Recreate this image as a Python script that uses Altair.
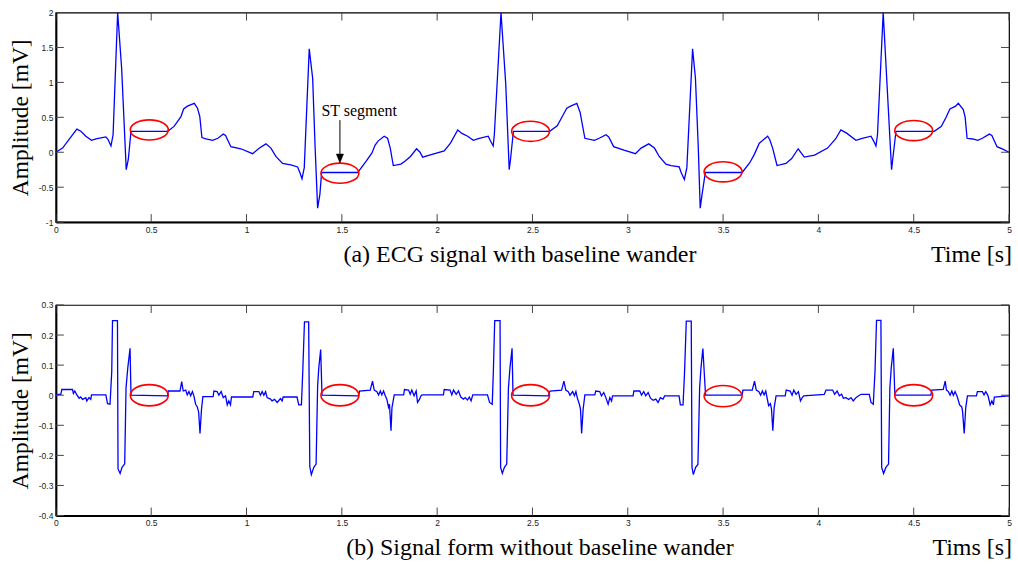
import altair as alt
import pandas as pd

# ---------------- data ----------------
# (a) ECG signal with baseline wander
time_a = [
    0, 0.035, 0.11, 0.131, 0.157, 0.187, 0.21, 0.262, 0.274, 0.289, 0.30, 0.324, 0.345, 0.369, 0.38, 0.394,
    0.586, 0.62, 0.656, 0.67, 0.69, 0.726, 0.743, 0.755, 0.766, 0.787, 0.822, 0.85, 0.878, 0.89, 0.918, 0.97,
    1.032, 1.068, 1.102, 1.128, 1.154, 1.189, 1.232, 1.268, 1.28, 1.291, 1.303, 1.329, 1.347, 1.36, 1.373, 1.385, 1.394,
    1.583, 1.627, 1.658, 1.674, 1.69, 1.722, 1.74, 1.754, 1.77, 1.81, 1.831, 1.86, 1.892, 1.91, 1.924, 1.96,
    2.037, 2.07, 2.108, 2.13, 2.16, 2.19, 2.22, 2.268, 2.28, 2.294, 2.30, 2.335, 2.36, 2.378, 2.385, 2.40,
    2.59, 2.63, 2.66, 2.68, 2.70, 2.733, 2.75, 2.775, 2.825, 2.85, 2.886, 2.9, 2.926, 2.98,
    3.04, 3.07, 3.11, 3.14, 3.165, 3.20, 3.227, 3.27, 3.28, 3.297, 3.31, 3.34, 3.355, 3.37, 3.38, 3.39, 3.407,
    3.60, 3.64, 3.664, 3.69, 3.734, 3.745, 3.76, 3.783, 3.83, 3.86, 3.894, 3.926, 3.98,
    4.048, 4.09, 4.118, 4.15, 4.197, 4.23, 4.276, 4.29, 4.302, 4.31, 4.34, 4.36, 4.384, 4.39, 4.407,
    4.608, 4.645, 4.67, 4.69, 4.72, 4.734, 4.76, 4.77, 4.78, 4.81, 4.836, 4.86, 4.897, 4.91, 4.937, 4.97, 5.0,
]
amp_a = [
    0, 0.06, 0.33, 0.30, 0.23, 0.17, 0.19, 0.22, 0.18, 0.09, 0.25, 2.0, 1.2, -0.25, -0.10, 0.30,
    0.30, 0.37, 0.51, 0.62, 0.66, 0.70, 0.63, 0.51, 0.21, 0.19, 0.17, 0.20, 0.26, 0.24, 0.08, 0.05,
    -0.02, 0.06, 0.12, 0.06, -0.06, -0.16, -0.18, -0.21, -0.29, -0.38, -0.22, 1.48, 1.06, 0.06, -0.80, -0.60, -0.29,
    -0.29, -0.13, -0.01, 0.10, 0.16, 0.23, 0.20, 0.06, -0.19, -0.17, -0.13, -0.06, 0.05, 0.0, -0.07, -0.04,
    0.02, 0.13, 0.32, 0.27, 0.23, 0.17, 0.20, 0.23, 0.16, 0.09, 0.25, 2.0, 0.97, -0.25, -0.10, 0.30,
    0.30, 0.38, 0.53, 0.63, 0.66, 0.70, 0.57, 0.20, 0.17, 0.20, 0.25, 0.22, 0.08, 0.03,
    -0.02, 0.06, 0.12, 0.06, -0.06, -0.17, -0.19, -0.21, -0.29, -0.39, -0.22, 1.48, 1.06, 0.06, -0.80, -0.60, -0.29,
    -0.29, -0.15, -0.03, 0.13, 0.23, 0.18, 0.06, -0.19, -0.16, -0.09, 0.05, -0.07, -0.04,
    0.06, 0.19, 0.32, 0.27, 0.17, 0.20, 0.23, 0.16, 0.09, 0.25, 2.0, 0.97, -0.25, -0.10, 0.30,
    0.30, 0.37, 0.50, 0.62, 0.66, 0.70, 0.61, 0.50, 0.20, 0.19, 0.17, 0.20, 0.26, 0.24, 0.08, 0.04, 0.0,
]

# (b) Signal form without baseline wander
time_b = [
    0, 0.026, 0.031, 0.087, 0.092, 0.099, 0.11, 0.122, 0.13, 0.14, 0.157, 0.162, 0.174, 0.183, 0.187,
    0.262, 0.271, 0.284, 0.293, 0.297, 0.323, 0.326, 0.337, 0.347, 0.361, 0.368, 0.377, 0.389, 0.394,
    0.585, 0.59, 0.651, 0.66, 0.668, 0.681, 0.689, 0.698, 0.707, 0.716, 0.724, 0.733, 0.742, 0.749, 0.756,
    0.764, 0.771, 0.825, 0.829, 0.846, 0.855, 0.867, 0.878, 0.89, 0.899, 0.907, 0.916, 0.921,
    1.033, 1.038, 1.065, 1.073, 1.082, 1.091, 1.1, 1.108, 1.126, 1.134, 1.147, 1.161, 1.178, 1.187, 1.192,
    1.265, 1.274, 1.288, 1.295, 1.304, 1.326, 1.332, 1.34, 1.353, 1.365, 1.373, 1.379, 1.389, 1.396,
    1.588, 1.593, 1.649, 1.661, 1.67, 1.684, 1.693, 1.702, 1.71, 1.719, 1.728, 1.736, 1.745, 1.75, 1.758,
    1.763, 1.775, 1.824, 1.829, 1.85, 1.859, 1.867, 1.879, 1.89, 1.897, 1.908, 1.915, 1.921,
    2.033, 2.037, 2.068, 2.077, 2.086, 2.1, 2.112, 2.124, 2.138, 2.147, 2.159, 2.169, 2.178, 2.187,
    2.264, 2.275, 2.289, 2.295, 2.302, 2.33, 2.333, 2.342, 2.353, 2.365, 2.374, 2.382, 2.393, 2.398,
    2.583, 2.592, 2.653, 2.665, 2.675, 2.688, 2.697, 2.711, 2.72, 2.728, 2.735, 2.746, 2.752, 2.758,
    2.766, 2.775, 2.827, 2.832, 2.853, 2.862, 2.874, 2.885, 2.897, 2.906, 2.915, 2.92,
    3.028, 3.032, 3.063, 3.072, 3.084, 3.094, 3.107, 3.119, 3.133, 3.147, 3.159, 3.171, 3.185, 3.194,
    3.269, 3.276, 3.29, 3.298, 3.307, 3.333, 3.337, 3.344, 3.356, 3.368, 3.377, 3.384, 3.394, 3.408,
    3.6, 3.604, 3.653, 3.665, 3.674, 3.688, 3.697, 3.706, 3.715, 3.724, 3.729, 3.739, 3.748, 3.754, 3.761,
    3.768, 3.778, 3.826, 3.831, 3.852, 3.862, 3.871, 3.883, 3.895, 3.906, 3.915, 3.923,
    4.031, 4.04, 4.075, 4.085, 4.098, 4.11, 4.122, 4.131, 4.145, 4.159, 4.171, 4.183, 4.197, 4.211, 4.224,
    4.267, 4.276, 4.288, 4.297, 4.305, 4.328, 4.332, 4.342, 4.354, 4.368, 4.375, 4.382, 4.393, 4.401,
    4.59, 4.595, 4.655, 4.665, 4.672, 4.682, 4.691, 4.7, 4.708, 4.717, 4.729, 4.741, 4.752, 4.756,
    4.765, 4.773, 4.782, 4.829, 4.834, 4.86, 4.869, 4.878, 4.89, 4.901, 4.91, 4.918, 4.923, 5.0,
]
amp_b = [
    0.003, 0.003, 0.019, 0.019, 0.006, 0.014, 0.001, -0.010, -0.006, -0.014, -0.008, -0.019, -0.008, -0.014, 0.001,
    0.001, -0.028, -0.030, 0.078, 0.248, 0.248, -0.245, -0.260, -0.240, -0.228, 0.025, 0.090, 0.156, 0.0,
    -0.002, 0.014, 0.014, 0.045, 0.014, 0.017, 0.001, 0.012, -0.002, 0.012, -0.002, -0.030, -0.039, -0.057, -0.127,
    -0.046, -0.005, -0.005, 0.014, 0.012, 0.0, 0.012, -0.008, -0.002, -0.032, -0.019, -0.032, -0.006,
    -0.006, 0.012, 0.012, 0.0, 0.012, 0.0, 0.012, -0.008, -0.013, -0.019, -0.014, -0.024, -0.011, -0.019, -0.006,
    -0.006, -0.032, -0.032, 0.078, 0.244, 0.244, -0.237, -0.264, -0.240, -0.229, 0.030, 0.090, 0.152, 0.0,
    -0.002, 0.014, 0.017, 0.047, 0.017, 0.012, 0.001, 0.014, 0.001, 0.014, -0.002, -0.013, -0.040, -0.030, -0.118,
    -0.041, 0.001, 0.001, 0.019, 0.017, 0.003, 0.017, -0.002, 0.014, -0.024, -0.013, -0.002, 0.001,
    0.001, 0.019, 0.017, 0.001, 0.017, 0.003, 0.014, -0.006, -0.013, -0.008, -0.016, -0.006, -0.019, 0.001,
    0.001, -0.024, -0.030, 0.080, 0.248, 0.248, -0.240, -0.260, -0.240, -0.229, 0.025, 0.090, 0.156, 0.0,
    -0.002, 0.014, 0.017, 0.047, 0.017, 0.012, 0.0, 0.012, -0.002, 0.012, -0.008, -0.030, -0.046, -0.127,
    -0.046, 0.001, 0.001, 0.014, 0.012, -0.002, 0.009, -0.008, -0.030, -0.008, -0.019, -0.002,
    -0.002, 0.014, 0.014, 0.0, 0.012, -0.002, 0.009, -0.010, -0.017, -0.013, -0.024, -0.008, -0.013, -0.002,
    -0.002, -0.032, -0.032, 0.078, 0.246, 0.246, -0.240, -0.264, -0.240, -0.230, 0.025, 0.090, 0.155, 0.0,
    0.0, 0.017, 0.017, 0.047, 0.017, 0.012, 0.0, 0.014, 0.001, 0.014, -0.003, -0.035, -0.028, -0.046, -0.118,
    -0.041, -0.002, -0.002, 0.017, 0.014, 0.0, 0.017, 0.003, 0.012, -0.019, -0.008, -0.002,
    0.003, 0.017, 0.017, 0.003, 0.014, -0.002, 0.003, -0.010, -0.008, -0.014, -0.008, -0.019, -0.008, -0.002, 0.003,
    0.003, -0.024, -0.030, 0.080, 0.249, 0.249, -0.240, -0.260, -0.240, -0.229, 0.025, 0.090, 0.156, 0.0,
    0.0, 0.017, 0.019, 0.047, 0.017, 0.012, 0.0, 0.014, 0.0, 0.012, -0.006, -0.032, -0.039, -0.052,
    -0.127, -0.041, -0.002, -0.002, 0.012, 0.012, 0.001, 0.012, -0.002, -0.032, -0.019, -0.032, -0.006, -0.002,
]
assert len(time_a) == len(amp_a) and len(time_b) == len(amp_b)

# red ellipses marking the ST segments
ellipse_time_a = [0.49, 1.49, 2.49, 3.50, 4.50]
ellipse_amp_a = [0.32, -0.30, 0.30, -0.28, 0.31]
ellipse_time_b = [0.49, 1.49, 2.49, 3.50, 4.50]
ellipse_amp_b = [0.0, 0.0, 0.0, -0.003, 0.0]

# axis ticks
x_ticks = [0, 0.5, 1, 1.5, 2, 2.5, 3, 3.5, 4, 4.5, 5]
y_ticks_a = [-1, -0.5, 0, 0.5, 1, 1.5, 2]
y_ticks_b = [-0.4, -0.3, -0.2, -0.1, 0, 0.1, 0.2, 0.3]

# annotation
st_label = "ST segment"
st_label_pos = (1.393, 0.52)
st_arrow = (1.49, 0.46, -0.09)  # t, from, arrow head centre

captions = {
    "a": ("(a) ECG signal with baseline wander", "Time [s]"),
    "b": ("(b) Signal form without baseline wander", "Tims [s]"),
}

# ---------------- chart ----------------
W = 955
SERIF = "Liberation Serif"
SANS = "Liberation Sans"
ELLIPSE = "M -1 0 A 1 {r} 0 1 0 1 0 A 1 {r} 0 1 0 -1 0"


def panel(t, v, et, ev, ydom, yticks, cap, unit, H, cap_x, ry, bounds_y, bounds_y2, st=False):
    xs = alt.Scale(domain=[0, 5], nice=False, zero=False)
    ys = alt.Scale(domain=ydom, nice=False, zero=False)
    xaxis = alt.Axis(values=x_ticks, ticks=False, tickSize=0, grid=False, title=None,
                     domainColor="black", domainWidth=2, labelFont=SANS, labelFontSize=8.5,
                     labelColor="#222", labelPadding=3, labelFlush=False, labelOverlap=False,
                     labelExpr="toString(datum.value)")
    yaxis = alt.Axis(values=yticks, ticks=False, tickSize=0, grid=False, title="Amplitude [mV]",
                     domainColor="black", domainWidth=2, labelFont=SANS, labelFontSize=8.5,
                     labelColor="#222", labelPadding=3, labelFlush=False, labelOverlap=False,
                     labelExpr="toString(datum.value)",
                     titleFont=SERIF, titleFontSize=23.5, titleFontWeight="normal", titleColor="black",
                     titleX=-28, titleY=H / 2, titleAngle=270, titleAlign="center",
                     titleBaseline="alphabetic")
    X = alt.X("t:Q", scale=xs, axis=xaxis)
    Y = alt.Y("v:Q", scale=ys, axis=yaxis)

    df = pd.DataFrame({"t": t, "v": v})
    line = alt.Chart(df).mark_line(color="#0000ff", strokeWidth=1.3, interpolate="linear").encode(x=X, y=Y)

    edf = pd.DataFrame({"t": et, "v": ev})
    ell = alt.Chart(edf).mark_point(shape=ELLIPSE.format(r=ry), size=1444, filled=False,
                                    stroke="#ff0000", strokeWidth=1.6, opacity=1).encode(x=X, y=Y)

    xt = pd.DataFrame({"t": x_ticks})
    yt = pd.DataFrame({"v": yticks})
    tick_style = dict(color="#444", strokeWidth=1)
    ticks = [
        alt.Chart(xt).mark_rule(**tick_style).encode(x=X, y=alt.value(0), y2=alt.value(8)),
        alt.Chart(xt).mark_rule(**tick_style).encode(x=X, y=alt.value(H - 8), y2=alt.value(H)),
        alt.Chart(yt).mark_rule(**tick_style).encode(y=Y, x=alt.value(0), x2=alt.value(8)),
        alt.Chart(yt).mark_rule(**tick_style).encode(y=Y, x=alt.value(W - 8), x2=alt.value(W)),
    ]

    one = pd.DataFrame({"k": [0]})
    cap_text = alt.Chart(one).mark_text(text=cap, font=SERIF, fontSize=24, color="black",
                                        align="center", baseline="alphabetic").encode(
        x=alt.value(cap_x), y=alt.value(H + 40))
    unit_text = alt.Chart(one).mark_text(text=unit, font=SERIF, fontSize=24, color="black",
                                         align="right", baseline="alphabetic").encode(
        x=alt.value(W + 3), y=alt.value(H + 40))
    bounds = alt.Chart(one).mark_rect(opacity=0, fill="white").encode(
        x=alt.value(-55), x2=alt.value(W + 8), y=alt.value(bounds_y), y2=alt.value(bounds_y2))

    layers = [bounds, line, ell] + ticks + [cap_text, unit_text]

    if st:
        lab = pd.DataFrame({"t": [st_label_pos[0]], "v": [st_label_pos[1]]})
        layers.append(alt.Chart(lab).mark_text(text=st_label, font=SERIF, fontSize=16, color="black",
                                               align="left", baseline="alphabetic").encode(x=X, y=Y))
        ar = pd.DataFrame({"t": [st_arrow[0]], "v": [st_arrow[1]], "v2": [st_arrow[2]]})
        layers.append(alt.Chart(ar).mark_rule(color="black", strokeWidth=1).encode(
            x=X, y=Y, y2="v2:Q"))
        hd = pd.DataFrame({"t": [st_arrow[0]], "v": [st_arrow[2]]})
        layers.append(alt.Chart(hd).mark_point(shape="M -0.8 -1 L 0.8 -1 L 0 1 Z", size=81, filled=True,
                                               fill="black", stroke="black", strokeWidth=0.5,
                                               opacity=1).encode(x=X, y=Y))

    return alt.layer(*layers).properties(width=W, height=H)


top = panel(time_a, amp_a, ellipse_time_a, ellipse_amp_a, [-1, 2], y_ticks_a,
            captions["a"][0], captions["a"][1], 210, 465, 0.53, -11, 60, st=True)
bottom = panel(time_b, amp_b, ellipse_time_b, ellipse_amp_b, [-0.4, 0.3], y_ticks_b,
               captions["b"][0], captions["b"][1], 211, 485, 0.56, 0, 260)

chart = alt.vconcat(top, bottom, spacing=83, bounds="flush").properties(
    padding=0, background="white"
).configure_view(stroke="black", strokeWidth=1.2)

chart.save("out.html", embed_options={"renderer": "svg", "actions": False})
